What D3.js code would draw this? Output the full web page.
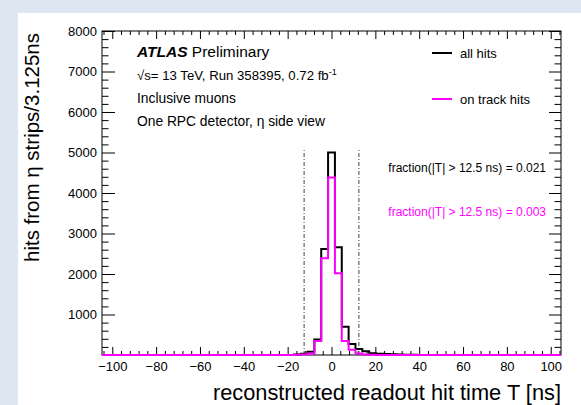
<!DOCTYPE html>
<html>
<head>
<meta charset="utf-8">
<script src="https://cdn.jsdelivr.net/npm/d3@7"></script>
<style>
  html, body { margin: 0; padding: 0; background: #dde7f2; }
  svg { display: block; }
  text { font-family: "Liberation Sans", Arial, Helvetica, sans-serif; fill: #000; }
</style>
</head>
<body>
<svg id="chart" width="581" height="405"></svg>
<script>
// Readout time histogram: 67 bins of 3.125 ns, bin k centred on k*3.125 ns (k = -33..33)
const binWidth = 3.125;
const binEdgeLow = -104.6875;

// All RPC hits per bin
const allHits = [
  0, 0, 0, 0, 0, 0, 0, 0, 0, 0, 0, 0, 0, 0, 0, 0, 0, 0, 0, 0, 0, 0, 0, 0, 0, 0, 0, 0,
  10, 30, 80, 385, 2620, 5000, 2660, 700, 270, 150, 90, 45, 30, 22, 16, 12, 8, 5, 3,
  0, 0, 0, 0, 0, 0, 0, 0, 0, 0, 0, 0, 0, 0, 0, 0, 0, 0, 0, 0
];

// Hits associated with a reconstructed muon track
const onTrackHits = [
  0, 0, 0, 0, 0, 0, 0, 0, 0, 0, 0, 0, 0, 0, 0, 0, 0, 0, 0, 0, 0, 0, 0, 0, 0, 0, 0, 0,
  5, 15, 40, 345, 2390, 4380, 2020, 345, 130, 40, 12, 5, 3, 0, 0, 0, 0, 0, 0,
  0, 0, 0, 0, 0, 0, 0, 0, 0, 0, 0, 0, 0, 0, 0, 0, 0, 0, 0, 0
];

const xMajorTicks = [-100, -80, -60, -40, -20, 0, 20, 40, 60, 80, 100];
const yMajorTicks = [0, 1000, 2000, 3000, 4000, 5000, 6000, 7000, 8000];
const yMax = 8000;

// Timing cut at |T| = 12.5 ns and the out-of-window fractions
const timeCut = 12.5;
const cutLineTop = 5060;
const fractionAll = 0.021;
const fractionOnTrack = 0.003;

const svg = d3.select("#chart");
const W = 581, H = 405;
const plotL = 102, plotR = 561, plotT = 31, plotB = 355;

// Page background and white canvas
svg.append("rect").attr("width", W).attr("height", H).attr("fill", "#dde7f2");
svg.append("rect").attr("x", 18).attr("y", 13).attr("width", W - 18).attr("height", H - 13).attr("fill", "#fff");

const nBins = allHits.length;
const x = d3.scaleLinear().domain([binEdgeLow, binEdgeLow + nBins * binWidth]).range([plotL, plotR]);
const y = d3.scaleLinear().domain([0, yMax]).range([plotB, plotT]);

const xMinor = d3.range(-104, 105, 4).filter(v => !xMajorTicks.includes(v));
const yMinor = d3.range(0, yMax + 1, 200).filter(v => !yMajorTicks.includes(v));

function styleAxis(g) {
  g.select(".domain").remove();
  g.selectAll("line").attr("stroke", "#000").attr("stroke-width", 1);
  g.selectAll("text").style("font-size", "13px").style("font-family", '"Liberation Sans", Arial, sans-serif');
}

// Bottom axis with labels
svg.append("g").attr("transform", `translate(0,${plotB})`)
  .call(d3.axisBottom(x).tickValues(xMajorTicks).tickSizeInner(-8).tickSizeOuter(0).tickPadding(7))
  .call(styleAxis);
svg.append("g").attr("transform", `translate(0,${plotB})`)
  .call(d3.axisBottom(x).tickValues(xMinor).tickSizeInner(-4).tickSizeOuter(0).tickFormat(""))
  .call(styleAxis);
// Top axis
svg.append("g").attr("transform", `translate(0,${plotT})`)
  .call(d3.axisTop(x).tickValues(xMajorTicks).tickSizeInner(-8).tickSizeOuter(0).tickFormat(""))
  .call(styleAxis);
svg.append("g").attr("transform", `translate(0,${plotT})`)
  .call(d3.axisTop(x).tickValues(xMinor).tickSizeInner(-4).tickSizeOuter(0).tickFormat(""))
  .call(styleAxis);
// Left axis with labels (zero left unlabelled)
svg.append("g").attr("transform", `translate(${plotL},0)`)
  .call(d3.axisLeft(y).tickValues(yMajorTicks).tickSizeInner(-13).tickSizeOuter(0).tickPadding(5)
    .tickFormat(d => d === 0 ? "" : d3.format("d")(d)))
  .call(styleAxis);
svg.append("g").attr("transform", `translate(${plotL},0)`)
  .call(d3.axisLeft(y).tickValues(yMinor).tickSizeInner(-6.5).tickSizeOuter(0).tickFormat(""))
  .call(styleAxis);
// Right axis
svg.append("g").attr("transform", `translate(${plotR},0)`)
  .call(d3.axisRight(y).tickValues(yMajorTicks).tickSizeInner(-12).tickSizeOuter(0).tickFormat(""))
  .call(styleAxis);
svg.append("g").attr("transform", `translate(${plotR},0)`)
  .call(d3.axisRight(y).tickValues(yMinor).tickSizeInner(-6.5).tickSizeOuter(0).tickFormat(""))
  .call(styleAxis);

// Frame
svg.append("rect").attr("x", plotL).attr("y", plotT).attr("width", plotR - plotL).attr("height", plotB - plotT)
  .attr("fill", "none").attr("stroke", "#000").attr("stroke-width", 1);

// Timing-cut lines
svg.selectAll(".cut").data([-timeCut, timeCut]).enter().append("line")
  .attr("x1", d => x(d)).attr("x2", d => x(d))
  .attr("y1", y(0)).attr("y2", y(cutLineTop))
  .attr("stroke", "#444").attr("stroke-width", 1).attr("stroke-dasharray", "4,2,1,2");

// Step outline of a histogram
function histPath(values) {
  const pts = values.map((v, i) => [binEdgeLow + i * binWidth, v]);
  pts.push([binEdgeLow + values.length * binWidth, values[values.length - 1]]);
  return d3.line().x(d => x(d[0])).y(d => y(d[1])).curve(d3.curveStepAfter)(pts);
}

svg.append("path").attr("d", histPath(allHits))
  .attr("fill", "none").attr("stroke", "#000").attr("stroke-width", 2);
svg.append("path").attr("d", histPath(onTrackHits))
  .attr("fill", "none").attr("stroke", "#ff00ff").attr("stroke-width", 2);

// Axis titles
svg.append("text").attr("x", plotR).attr("y", 400).attr("text-anchor", "end")
  .style("font-size", "21.8px").text("reconstructed readout hit time T [ns]");
svg.append("text").attr("transform", `translate(39,33) rotate(-90)`).attr("text-anchor", "end")
  .style("font-size", "20.5px").text("hits from η strips/3.125ns");

// Experiment label block
const lab = svg.append("g").style("font-size", "13.8px");
const t1 = lab.append("text").attr("x", 137).attr("y", 57).style("font-size", "15.5px");
t1.append("tspan").style("font-weight", "bold").style("font-style", "italic").text("ATLAS");
t1.append("tspan").text(" Preliminary");
const t2 = lab.append("text").attr("x", 137).attr("y", 80).style("font-size", "13.2px");
t2.append("tspan").text("√s= 13 TeV, Run 358395, 0.72 fb");
t2.append("tspan").attr("dy", -5).style("font-size", "9px").text("-1");
lab.append("text").attr("x", 137).attr("y", 103).text("Inclusive muons");
lab.append("text").attr("x", 137).attr("y", 126).text("One RPC detector, η side view");

// Legend
const legend = [
  { label: "all hits", color: "#000", y: 53 },
  { label: "on track hits", color: "#ff00ff", y: 99 }
];
legend.forEach(d => {
  svg.append("line").attr("x1", 432).attr("x2", 452).attr("y1", d.y).attr("y2", d.y)
    .attr("stroke", d.color).attr("stroke-width", 2);
  svg.append("text").attr("x", 460).attr("y", d.y + 4.5).style("font-size", "13px").text(d.label);
});

// Out-of-window fractions
svg.append("text").attr("x", 546).attr("y", 172).attr("text-anchor", "end").style("font-size", "12px")
  .text(`fraction(|T| > ${timeCut} ns) = ${fractionAll.toFixed(3)}`);
svg.append("text").attr("x", 546).attr("y", 216).attr("text-anchor", "end").style("font-size", "12px")
  .style("fill", "#ff00ff")
  .text(`fraction(|T| > ${timeCut} ns) = ${fractionOnTrack.toFixed(3)}`);
</script>
</body>
</html>
